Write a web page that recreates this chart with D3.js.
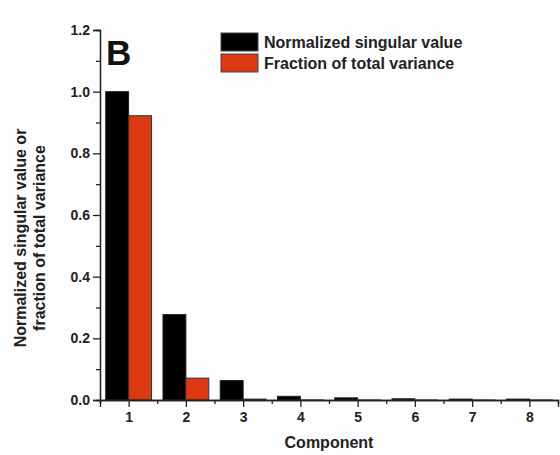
<!DOCTYPE html>
<html>
<head>
<meta charset="utf-8">
<script src="https://cdn.jsdelivr.net/npm/d3@7"></script>
<style>
  body { margin: 0; background: #fdfdfd; }
  svg { font-family: "Liberation Sans", Arial, sans-serif; }
</style>
</head>
<body>
<svg id="chart"></svg>
<script>
var components = [1, 2, 3, 4, 5, 6, 7, 8];
var singularValue = [1.0, 0.277, 0.063, 0.012, 0.007, 0.004, 0.003, 0.003];
var varianceFraction = [0.922, 0.071, 0.003, 0.0002, 0.0001, 0.0001, 0.0001, 0.0001];
var yTicks = [0, 0.2, 0.4, 0.6, 0.8, 1.0, 1.2];
var seriesNames = ["Normalized singular value", "Fraction of total variance"];

var width = 560, height = 455;
var svg = d3.select("#chart").attr("width", width).attr("height", height);

var x = d3.scaleLinear().domain([0.5, 8.5]).range([100, 558]);
var y = d3.scaleLinear().domain([0, 1.2]).range([400, 30]);
var color = ["#000000", "#dc3912"];
var barW = 0.4;

// bars
var g = svg.append("g");
g.selectAll(".sv")
  .data(components).enter()
  .append("rect")
  .attr("x", function(d) { return x(d - barW); })
  .attr("y", function(d, i) { return y(singularValue[i]); })
  .attr("width", function(d) { return x(d) - x(d - barW); })
  .attr("height", function(d, i) { return y(0) - y(singularValue[i]); })
  .attr("fill", color[0])
  .attr("stroke", "#222").attr("stroke-width", 1);

g.selectAll(".fv")
  .data(components).enter()
  .append("rect")
  .attr("x", function(d) { return x(d); })
  .attr("y", function(d, i) { return y(varianceFraction[i]); })
  .attr("width", function(d) { return x(d + barW) - x(d); })
  .attr("height", function(d, i) { return y(0) - y(varianceFraction[i]); })
  .attr("fill", color[1])
  .attr("stroke", "#333").attr("stroke-width", 1);

// axes
var xMinor = d3.axisBottom(x).tickValues(d3.range(0.5, 9, 1)).tickSize(4).tickFormat("");
var xAxis = d3.axisBottom(x).tickValues(components).tickSize(7).tickPadding(5).tickFormat(d3.format("d"));
var yMinor = d3.axisLeft(y).tickValues(d3.range(0.1, 1.2, 0.2)).tickSize(4).tickFormat("");
var yAxis = d3.axisLeft(y).tickValues(yTicks).tickSize(7).tickPadding(3).tickFormat(d3.format(".1f"));

svg.append("g").attr("transform", "translate(0,400)").call(xMinor);
svg.append("g").attr("class", "axis").attr("transform", "translate(0,400)").call(xAxis);
svg.append("g").attr("transform", "translate(100,0)").call(yMinor);
svg.append("g").attr("class", "axis").attr("transform", "translate(100,0)").call(yAxis);

svg.selectAll(".domain, .tick line").attr("stroke", "#222").attr("stroke-width", 1.3);
svg.selectAll(".axis text")
  .style("font-size", "14px").style("font-weight", "bold").attr("fill", "#222");

// axis titles
svg.append("text")
  .attr("x", 329).attr("y", 448)
  .attr("text-anchor", "middle")
  .style("font-size", "16px").style("font-weight", "bold").attr("fill", "#222")
  .text("Component");

var yt = svg.append("text")
  .attr("transform", "translate(26,238)rotate(-90)")
  .attr("text-anchor", "middle")
  .style("font-size", "16px").style("font-weight", "bold").attr("fill", "#222");
yt.append("tspan").attr("x", 0).attr("dy", 0).text("Normalized singular value or");
yt.append("tspan").attr("x", 0).attr("dy", 19).text("fraction of total variance");

// panel letter
svg.append("text")
  .attr("x", 106).attr("y", 65)
  .style("font-size", "35px").style("font-weight", "bold").attr("fill", "#111")
  .text("B");

// legend
var legend = svg.append("g");
seriesNames.forEach(function(name, i) {
  legend.append("rect")
    .attr("x", 221).attr("y", 33 + i * 21)
    .attr("width", 37).attr("height", 18)
    .attr("fill", color[i]).attr("stroke", "#444").attr("stroke-width", 1);
  legend.append("text")
    .attr("x", 264).attr("y", 48 + i * 21)
    .style("font-size", "16px").style("font-weight", "bold").attr("fill", "#222")
    .text(name);
});
</script>
</body>
</html>
